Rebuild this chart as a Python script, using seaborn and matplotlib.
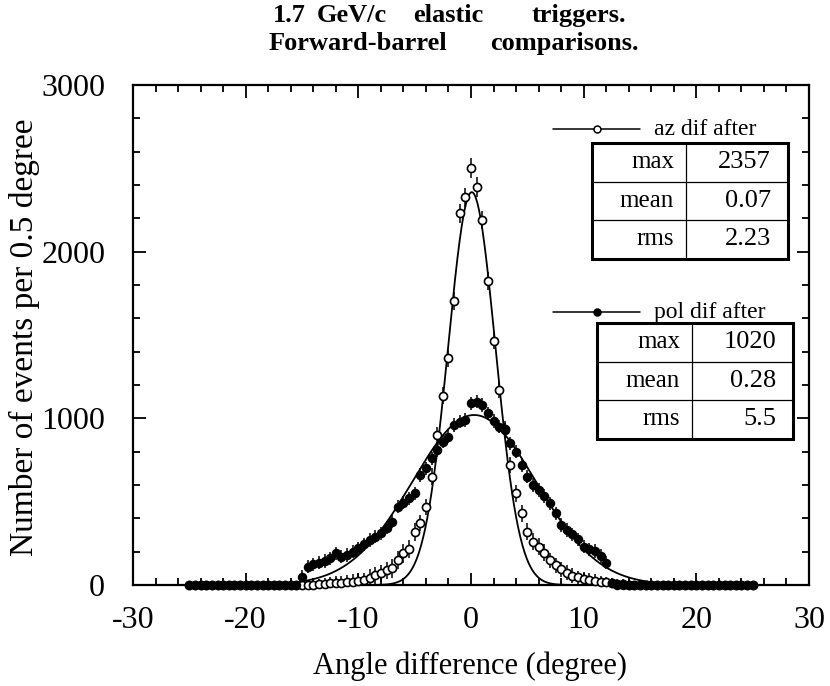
import numpy as np
import pandas as pd
import matplotlib
matplotlib.use("Agg")
import matplotlib.pyplot as plt
from matplotlib.patches import Rectangle
from matplotlib.lines import Line2D
import seaborn as sns

# ---------------- data ----------------
bin_step = 0.5
bin_lo, bin_hi = -25.0, 25.0

az_counts = ([0] * 22 +
             [3, 5, 8, 12, 12, 14, 18, 20, 22, 30, 45, 58, 70, 88, 100, 150, 190, 215,
              320, 372, 468, 650, 900, 1136, 1360, 1706, 2230, 2326, 2505, 2386, 2190,
              1824, 1466, 1170, 935, 720, 550, 430, 320, 260, 230, 194, 150, 120, 94,
              74, 56, 46, 36, 30, 26, 20, 16, 12, 8, 5, 3] +
             [0] * 22)
az_err = ([25] * 22 +
          [30, 30, 35, 35, 40, 40, 40, 45, 45, 45, 50, 50, 50, 50, 55, 55, 55, 55,
           55, 50, 50, 50, 50, 50, 50, 55, 55, 55, 60, 60, 55,
           55, 50, 50, 50, 50, 50, 50, 50, 50, 50, 50, 45, 45, 45,
           45, 45, 40, 40, 40, 40, 35, 35, 30, 30, 30, 30] +
          [25] * 22)

pol_counts = ([0] * 20 +
              [50, 110, 125, 135, 145, 160, 190, 170, 180, 200,
               220, 245, 270, 290, 310, 345, 380, 470, 495, 520,
               550, 660, 700, 760, 810, 860, 890, 960, 980, 990,
               1090, 1100, 1080, 1030, 985, 950, 930, 850, 800, 720,
               650, 600, 570, 535, 490, 430, 360, 330, 305, 275,
               230, 215, 205, 175, 135, 15] +
              [0] * 25)
pol_err = ([25] * 20 +
           [40, 40, 40, 40, 40, 40, 40, 40, 40, 40,
            40, 40, 40, 40, 40, 40, 40, 40, 40, 40,
            40, 40, 40, 40, 40, 40, 40, 40, 40, 40,
            40, 40, 40, 40, 40, 40, 40, 40, 40, 40,
            40, 40, 40, 40, 40, 40, 40, 40, 40, 40,
            40, 40, 40, 40, 40, 30] +
           [25] * 25)

# fit parameters (Gaussian fits shown as solid curves)
az_stats = {"max": "2357", "mean": "0.07", "rms": "2.23"}
pol_stats = {"max": "1020", "mean": "0.28", "rms": "5.5"}
az_fit_amp, az_fit_mean, az_fit_sigma = 2357, 0.07, 2.1
pol_fit_amp, pol_fit_mean, pol_fit_sigma = 1020, 0.28, 5.5

series_labels = ["az dif after", "pol dif after"]
title_lines = [["1.7", "GeV/c", "elastic", "triggers."],
               ["Forward-barrel", "comparisons."]]
x_label = "Angle difference (degree)"
y_label = "Number of events per 0.5 degree"
x_ticks = [-30, -20, -10, 0, 10, 20, 30]
y_ticks = [0, 1000, 2000, 3000]

# ---------------- build frames ----------------
angles = np.arange(bin_lo, bin_hi + bin_step / 2, bin_step)
assert len(az_counts) == len(angles) == len(az_err) == len(pol_counts) == len(pol_err)
df = pd.DataFrame({"angle": angles, "az": az_counts, "az_err": az_err,
                   "pol": pol_counts, "pol_err": pol_err})
xf = np.linspace(bin_lo, bin_hi, 801)
fit_df = pd.DataFrame({
    "angle": xf,
    "az_fit": az_fit_amp * np.exp(-0.5 * ((xf - az_fit_mean) / az_fit_sigma) ** 2),
    "pol_fit": pol_fit_amp * np.exp(-0.5 * ((xf - pol_fit_mean) / pol_fit_sigma) ** 2),
})

# ---------------- style ----------------
sns.set_theme(style="ticks")
plt.rcParams["font.family"] = ["Liberation Serif", "DejaVu Serif"]
plt.rcParams["text.color"] = "black"
plt.rcParams["axes.labelcolor"] = "black"
plt.rcParams["xtick.color"] = "black"
plt.rcParams["ytick.color"] = "black"

W, H = 830, 686
fig = plt.figure(figsize=(W / 100, H / 100), dpi=100)
fig.patch.set_facecolor("white")

def fx(px):
    return px / W

def fy(py):
    return 1 - py / H

ax = fig.add_axes([fx(133), fy(585), (809 - 133) / W, (585 - 85) / H])
ax.set_facecolor("white")

# error bars
ax.vlines(df["angle"], df["az"] - df["az_err"], df["az"] + df["az_err"],
          color="black", lw=1.1, zorder=2)
ax.vlines(df["angle"], df["pol"] - df["pol_err"], df["pol"] + df["pol_err"],
          color="black", lw=1.1, zorder=2)

# fit curves
sns.lineplot(data=fit_df, x="angle", y="az_fit", ax=ax, color="black", lw=1.3, zorder=3)
sns.lineplot(data=fit_df, x="angle", y="pol_fit", ax=ax, color="black", lw=1.3, zorder=3)

# points
sns.scatterplot(data=df, x="angle", y="az", ax=ax, marker="o", s=34,
                facecolor="white", edgecolor="black", linewidth=1.2, zorder=4,
                clip_on=False)
sns.scatterplot(data=df, x="angle", y="pol", ax=ax, marker="o", s=34,
                color="black", edgecolor="black", linewidth=1.0, zorder=5,
                clip_on=False)

ax.set_xlim(-30, 30)
ax.set_ylim(0, 3000)
ax.set_xticks(x_ticks)
ax.set_yticks(y_ticks)
ax.set_xticks(np.arange(-30, 31, 2), minor=True)
ax.set_yticks(np.arange(0, 3001, 200), minor=True)
ax.set_xticklabels([str(t) for t in x_ticks], fontsize=23)
ax.set_yticklabels([str(t) for t in y_ticks], fontsize=23)
ax.tick_params(which="both", direction="in", top=True, right=True, width=1.3)
ax.tick_params(which="major", length=9)
ax.tick_params(which="minor", length=5)
ax.tick_params(axis="x", which="major", pad=15)
ax.tick_params(axis="y", which="major", pad=20)
for sp in ax.spines.values():
    sp.set_linewidth(1.6)
    sp.set_color("black")
ax.set_xlabel("")
ax.set_ylabel("")

fig.text(fx(470), fy(674), x_label, ha="center", va="baseline", fontsize=22)
fig.text(fx(24), fy(337), y_label, ha="center", va="center", rotation=90, fontsize=24)

# title, word by word (letter-spaced original)
title_word_centers = [[289, 352, 448, 579], [358, 564]]
title_baselines = [22, 50]
for words, centers, base in zip(title_lines, title_word_centers, title_baselines):
    for w, c in zip(words, centers):
        fig.text(fx(c), fy(base), w, ha="center", va="baseline",
                 fontsize=19, fontweight="bold")

# legend entries + stat tables
def legend_block(label, filled, line_y, stats, left, right, top, divider):
    fig.add_artist(Line2D([fx(553), fx(640)], [fy(line_y), fy(line_y)],
                          color="black", lw=1.1, transform=fig.transFigure))
    fig.add_artist(Line2D([fx(597)], [fy(line_y)], marker="o", markersize=5,
                          markerfacecolor="black" if filled else "white",
                          markeredgecolor="black", markeredgewidth=1.1,
                          transform=fig.transFigure))
    fig.text(fx(654), fy(line_y + 6), label, ha="left", va="baseline", fontsize=17)
    row_h = 38.5
    bottom = top + 3 * row_h
    fig.add_artist(Rectangle((fx(left), fy(bottom)), fx(right) - fx(left),
                             fy(top) - fy(bottom), fill=True, facecolor="white",
                             edgecolor="black", lw=2.2, transform=fig.transFigure,
                             zorder=6))
    for i in (1, 2):
        yy = top + i * row_h
        fig.add_artist(Line2D([fx(left), fx(right)], [fy(yy), fy(yy)], color="black",
                              lw=0.9, transform=fig.transFigure, zorder=7))
    fig.add_artist(Line2D([fx(divider), fx(divider)], [fy(top), fy(bottom)],
                          color="black", lw=0.9, transform=fig.transFigure, zorder=7))
    for i, (k, v) in enumerate(stats.items()):
        yc = top + (i + 0.5) * row_h
        fig.text(fx(divider - 12), fy(yc), k, ha="right", va="center",
                 fontsize=18, zorder=8)
        fig.text(fx(right - 17), fy(yc), v, ha="right", va="center",
                 fontsize=19, zorder=8)

legend_block(series_labels[0], False, 129, az_stats, 592, 788, 143, 686)
legend_block(series_labels[1], True, 312, pol_stats, 597, 793, 323, 692)

fig.savefig("out.png", dpi=100, facecolor="white")
